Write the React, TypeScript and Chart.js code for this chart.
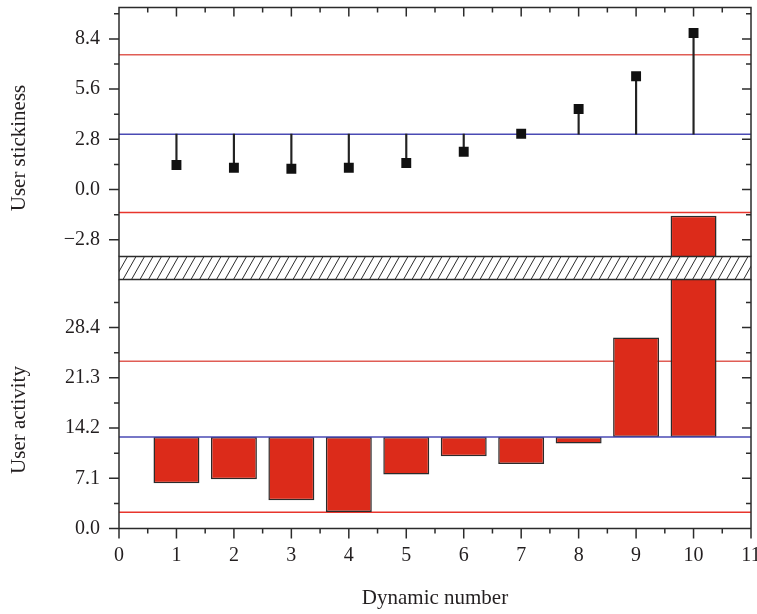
import { useEffect, useRef } from 'react';
import { Chart, registerables } from 'chart.js';

Chart.register(...registerables);

// ---- data ----
const dynamicNumbers = [1, 2, 3, 4, 5, 6, 7, 8, 9, 10];
const stickiness = [1.37, 1.22, 1.16, 1.22, 1.48, 2.11, 3.11, 4.49, 6.32, 8.73];
const activity = [6.4, 6.97, 4.0, 2.35, 7.63, 10.2, 9.13, 12.0, 27.0, 44.2];

const stickinessCenter = 3.09;
const stickinessUpper = 7.51;
const stickinessLower = -1.28;
const activityCenter = 12.94;
const activityUpper = 23.64;
const activityLower = 2.3;

const xTicks = [0, 1, 2, 3, 4, 5, 6, 7, 8, 9, 10, 11];
const xMinorTicks = [0.5, 1.5, 2.5, 3.5, 4.5, 5.5, 6.5, 7.5, 8.5, 9.5, 10.5];
const stickinessTicks = [-2.8, 0, 2.8, 5.6, 8.4];
const stickinessMinorTicks = [-1.4, 1.4, 4.2, 7.0, 9.8];
const activityTicks = [0, 7.1, 14.2, 21.3, 28.4];
const activityMinorTicks = [3.55, 10.65, 17.75, 24.85, 31.95];

const stickinessRange = [-3.73, 10.15];
const activityRange = [0, 35.2];
const xRange = [0, 11];

// ---- layout / style ----
const W = 757;
const H = 614;
const LEFT = 119;
const RIGHT_PAD = 6;
const TOP1 = 7.5;
const BOTTOM1 = 256.5;
const TOP2 = 279.5;
const BOTTOM2 = 528.5;

const FONT = '"Liberation Serif", "Times New Roman", serif';
const TEXT = '#231f20';
const FRAME = '#2b2b2b';
const RED_UP = '#e05d55';
const RED_LOW = '#e8352c';
const BLUE = '#4a4ab4';
const BAR_RED = '#dc2b1a';

Chart.defaults.font.family = FONT;
Chart.defaults.color = TEXT;

const fmt = (v: number) => (v < 0 ? '\u2212' + Math.abs(v).toFixed(1) : v.toFixed(1));

const noPad = (s: any) => {
  s.paddingTop = 0;
  s.paddingBottom = 0;
  s.paddingLeft = 0;
  s.paddingRight = 0;
};

function hLine(value: number, color: string, order: number) {
  return {
    type: 'line' as const,
    data: [
      { x: xRange[0], y: value },
      { x: xRange[1], y: value },
    ],
    borderColor: color,
    borderWidth: 1.5,
    pointRadius: 0,
    fill: false,
    order,
  };
}

function drawYTitle(ctx: CanvasRenderingContext2D, text: string, x: number, y: number) {
  ctx.save();
  ctx.translate(x, y);
  ctx.rotate(-Math.PI / 2);
  ctx.font = `21px ${FONT}`;
  ctx.fillStyle = TEXT;
  ctx.textAlign = 'center';
  ctx.textBaseline = 'middle';
  ctx.fillText(text, 0, 0);
  ctx.restore();
}

export default function App() {
  const topRef = useRef<HTMLCanvasElement>(null);
  const botRef = useRef<HTMLCanvasElement>(null);

  useEffect(() => {
    const topFrame = {
      id: 'topFrame',
      afterDraw(chart: any) {
        const { ctx, chartArea: a, scales } = chart;
        ctx.save();
        ctx.strokeStyle = FRAME;
        ctx.lineWidth = 1.5;
        ctx.beginPath();
        ctx.moveTo(a.left, a.bottom);
        ctx.lineTo(a.left, a.top);
        ctx.lineTo(a.right, a.top);
        ctx.lineTo(a.right, a.bottom);
        stickinessTicks.forEach((v) => {
          const y = scales.y.getPixelForValue(v);
          ctx.moveTo(a.left - 10, y);
          ctx.lineTo(a.left, y);
          ctx.moveTo(a.right - 9, y);
          ctx.lineTo(a.right, y);
        });
        stickinessMinorTicks.forEach((v) => {
          const y = scales.y.getPixelForValue(v);
          ctx.moveTo(a.left - 5, y);
          ctx.lineTo(a.left, y);
          ctx.moveTo(a.right - 5, y);
          ctx.lineTo(a.right, y);
        });
        xTicks.forEach((v) => {
          const x = scales.x.getPixelForValue(v);
          ctx.moveTo(x, a.top);
          ctx.lineTo(x, a.top + 9);
        });
        xMinorTicks.forEach((v) => {
          const x = scales.x.getPixelForValue(v);
          ctx.moveTo(x, a.top);
          ctx.lineTo(x, a.top + 5);
        });
        ctx.stroke();
        ctx.restore();
        drawYTitle(ctx, 'User stickiness', 19.6, (a.top + a.bottom) / 2 + 16);
      },
    };

    const botFrame = {
      id: 'botFrame',
      afterDraw(chart: any) {
        const { ctx, chartArea: a, scales } = chart;
        ctx.save();
        ctx.strokeStyle = FRAME;
        ctx.lineWidth = 1.5;
        ctx.beginPath();
        ctx.moveTo(a.left, a.top);
        ctx.lineTo(a.left, a.bottom);
        ctx.lineTo(a.right, a.bottom);
        ctx.lineTo(a.right, a.top);
        activityTicks.forEach((v) => {
          const y = scales.y.getPixelForValue(v);
          ctx.moveTo(a.left - 10, y);
          ctx.lineTo(a.left, y);
          ctx.moveTo(a.right - 9, y);
          ctx.lineTo(a.right, y);
        });
        activityMinorTicks.forEach((v) => {
          const y = scales.y.getPixelForValue(v);
          ctx.moveTo(a.left - 5, y);
          ctx.lineTo(a.left, y);
          ctx.moveTo(a.right - 5, y);
          ctx.lineTo(a.right, y);
        });
        xTicks.forEach((v) => {
          const x = scales.x.getPixelForValue(v);
          ctx.moveTo(x, a.bottom);
          ctx.lineTo(x, a.bottom + 10);
        });
        xMinorTicks.forEach((v) => {
          const x = scales.x.getPixelForValue(v);
          ctx.moveTo(x, a.bottom);
          ctx.lineTo(x, a.bottom + 5);
        });
        ctx.stroke();

        // axis break (hatched band)
        const gTop = BOTTOM1;
        const gBot = a.top;
        const h = gBot - gTop;
        ctx.fillStyle = '#ffffff';
        ctx.fillRect(a.left, gTop, a.right - a.left, h);
        ctx.save();
        ctx.beginPath();
        ctx.rect(a.left, gTop, a.right - a.left, h);
        ctx.clip();
        ctx.beginPath();
        ctx.lineWidth = 1;
        const run = 13;
        for (let x0 = a.left - run; x0 < a.right + run; x0 += 8.5) {
          ctx.moveTo(x0, gBot);
          ctx.lineTo(x0 + run, gTop);
        }
        ctx.stroke();
        ctx.restore();
        ctx.lineWidth = 1.5;
        ctx.strokeStyle = FRAME;
        ctx.strokeRect(a.left, gTop, a.right - a.left, h);
        ctx.restore();
        drawYTitle(ctx, 'User activity', 19.6, (a.top + a.bottom) / 2 + 16);
      },
    };

    const yTickFont = { size: 20, family: FONT };

    const top = new Chart(topRef.current!, {
      type: 'bar',
      data: {
        datasets: [
          {
            type: 'scatter' as const,
            data: dynamicNumbers.map((x, i) => ({ x, y: stickiness[i] })),
            pointStyle: 'rect',
            pointRadius: 7,
            pointBorderWidth: 0,
            backgroundColor: '#111111',
            borderWidth: 0,
            order: 0,
          } as any,
          {
            type: 'bar' as const,
            data: dynamicNumbers.map((x, i) => ({ x, y: [stickinessCenter, stickiness[i]] })),
            backgroundColor: '#222222',
            borderWidth: 0,
            barThickness: 1.5,
            order: 1,
          } as any,
          hLine(stickinessCenter, BLUE, 2) as any,
          hLine(stickinessUpper, RED_UP, 3) as any,
          hLine(stickinessLower, RED_LOW, 3) as any,
        ],
      },
      options: {
        responsive: false,
        animation: false,
        events: [],
        layout: {
          autoPadding: false,
          padding: { left: 0, right: RIGHT_PAD, top: TOP1, bottom: H - BOTTOM1 },
        },
        plugins: { legend: { display: false }, tooltip: { enabled: false } },
        scales: {
          x: {
            type: 'linear',
            min: xRange[0],
            max: xRange[1],
            offset: false,
            display: false,
            afterFit: noPad,
          },
          y: {
            type: 'linear',
            min: stickinessRange[0],
            max: stickinessRange[1],
            grid: { display: false, drawTicks: false },
            border: { display: false },
            afterBuildTicks: (s: any) => {
              s.ticks = stickinessTicks.map((v) => ({ value: v }));
            },
            afterFit: (s: any) => {
              s.width = LEFT;
              noPad(s);
            },
            ticks: {
              padding: 19,
              font: yTickFont,
              color: TEXT,
              callback: (v: any) => fmt(Number(v)),
            },
          },
        },
      } as any,
      plugins: [topFrame],
    });

    const bot = new Chart(botRef.current!, {
      type: 'bar',
      data: {
        datasets: [
          hLine(activityCenter, BLUE, 0) as any,
          {
            type: 'bar' as const,
            data: dynamicNumbers.map((x, i) => ({ x, y: [activityCenter, activity[i]] })),
            backgroundColor: BAR_RED,
            borderColor: FRAME,
            borderWidth: 1.5,
            borderSkipped: false,
            categoryPercentage: 0.8,
            barPercentage: 1,
            clip: false,
            order: 1,
          } as any,
          hLine(activityUpper, RED_UP, 2) as any,
          hLine(activityLower, RED_LOW, 2) as any,
        ],
      },
      options: {
        responsive: false,
        animation: false,
        events: [],
        layout: {
          autoPadding: false,
          padding: { left: 0, right: RIGHT_PAD, top: TOP2, bottom: 0 },
        },
        plugins: { legend: { display: false }, tooltip: { enabled: false } },
        scales: {
          x: {
            type: 'linear',
            min: xRange[0],
            max: xRange[1],
            offset: false,
            grid: { display: false, drawTicks: false },
            border: { display: false },
            afterBuildTicks: (s: any) => {
              s.ticks = xTicks.map((v) => ({ value: v }));
            },
            afterFit: (s: any) => {
              s.height = H - BOTTOM2;
              noPad(s);
            },
            ticks: {
              padding: 15,
              autoSkip: false,
              maxRotation: 0,
              font: { size: 20, family: FONT },
              color: TEXT,
              callback: (v: any) => String(v),
            },
            title: {
              display: true,
              text: 'Dynamic number',
              font: { size: 21, family: FONT },
              color: TEXT,
              padding: { top: 0, bottom: 3 },
            },
          },
          y: {
            type: 'linear',
            min: activityRange[0],
            max: activityRange[1],
            grid: { display: false, drawTicks: false },
            border: { display: false },
            afterBuildTicks: (s: any) => {
              s.ticks = activityTicks.map((v) => ({ value: v }));
            },
            afterFit: (s: any) => {
              s.width = LEFT;
              noPad(s);
            },
            ticks: {
              padding: 19,
              font: yTickFont,
              color: TEXT,
              callback: (v: any) => fmt(Number(v)),
            },
          },
        },
      } as any,
      plugins: [botFrame],
    });

    return () => {
      top.destroy();
      bot.destroy();
    };
  }, []);

  return (
    <div style={{ position: 'absolute', left: 0, top: 0, width: W, height: H, background: '#ffffff' }}>
      <canvas ref={topRef} width={W} height={H} style={{ position: 'absolute', left: 0, top: 0 }} />
      <canvas ref={botRef} width={W} height={H} style={{ position: 'absolute', left: 0, top: 0 }} />
    </div>
  );
}
